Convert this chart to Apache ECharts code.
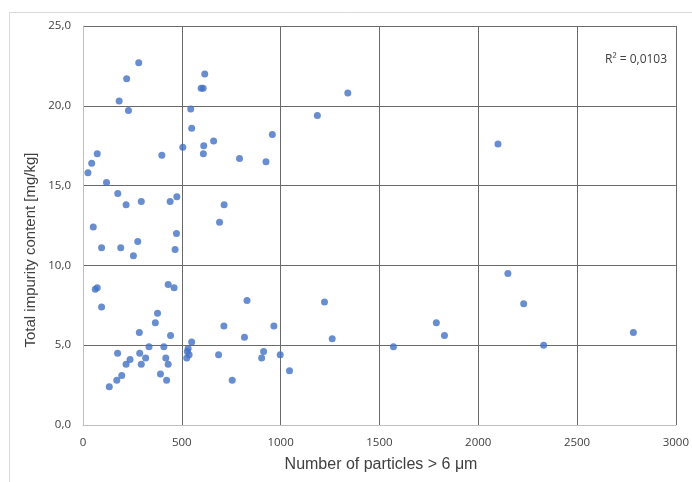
<!DOCTYPE html>
<html>
<head>
<meta charset="utf-8">
<script src="https://cdn.jsdelivr.net/npm/echarts@6/dist/echarts.min.js"></script>
<style>
  html, body { margin: 0; padding: 0; background: #fff; }
  #chart { width: 692px; height: 482px; }
</style>
</head>
<body>
<div id="chart"></div>
<script>
// particles > 6 um (x) vs total impurity content mg/kg (y)
const particles = [
  282, 221, 183, 230, 616, 598, 608, 545, 550, 1340,
  1186, 958, 661, 611, 505, 609, 399, 792, 926, 72,
  44, 25, 119, 176, 218, 295, 441, 475, 714, 691,
  52, 473, 277, 94, 191, 255, 466, 62, 72, 94,
  431, 461, 377, 366, 285, 443, 334, 409, 550, 532,
  528, 537, 525, 175, 287, 238, 218, 317, 295, 419,
  431, 392, 196, 171, 133, 423, 713, 817, 830, 966,
  686, 755, 914, 904, 998, 1045, 1222, 1261, 2100, 1571,
  1788, 1829, 2150, 2230, 2331, 2785
];
const impurity = [
  22.7, 21.7, 20.3, 19.7, 22.0, 21.1, 21.1, 19.8, 18.6, 20.8,
  19.4, 18.2, 17.8, 17.5, 17.4, 17.0, 16.9, 16.7, 16.5, 17.0,
  16.4, 15.8, 15.2, 14.5, 13.8, 14.0, 14.0, 14.3, 13.8, 12.7,
  12.4, 12.0, 11.5, 11.1, 11.1, 10.6, 11.0, 8.5, 8.6, 7.4,
  8.8, 8.6, 7.0, 6.4, 5.8, 5.6, 4.9, 4.9, 5.2, 4.8,
  4.6, 4.4, 4.2, 4.5, 4.5, 4.1, 3.8, 4.2, 3.8, 4.2,
  3.8, 3.2, 3.1, 2.8, 2.4, 2.8, 6.2, 5.5, 7.8, 6.2,
  4.4, 2.8, 4.6, 4.2, 4.4, 3.4, 7.7, 5.4, 17.6, 4.9,
  6.4, 5.6, 9.5, 7.6, 5.0, 5.8
];
const rSquaredText = 'R² = 0,0103';
const xTitle = 'Number of particles > 6 μm';
const yTitle = 'Total impurity content [mg/kg]';

const points = particles.map((x, i) => [x, impurity[i]]);

const labelFont = {
  color: '#404040',
  fontFamily: 'Open Sans',
  fontSize: 11.5
};

const chart = echarts.init(document.getElementById('chart'));

chart.setOption({
  backgroundColor: '#fff',
  animation: false,
  grid: {
    left: 83,
    right: 12,
    top: 26,
    bottom: 57,
    containLabel: false
  },
  xAxis: {
    type: 'value',
    min: 0,
    max: 3000,
    interval: 500,
    axisLine: { show: true, lineStyle: { color: '#bfbfbf', width: 1 } },
    axisTick: { show: false },
    axisLabel: Object.assign({
      margin: 12,
      formatter: v => String(v)
    }, labelFont),
    splitLine: {
      show: true,
      showMinLine: false,
      lineStyle: { color: '#6a6a6a', width: 1 }
    }
  },
  yAxis: {
    type: 'value',
    min: 0,
    max: 25,
    interval: 5,
    axisLine: { show: true, lineStyle: { color: '#bfbfbf', width: 1 } },
    axisTick: { show: false },
    axisLabel: Object.assign({
      margin: 12,
      formatter: v => v.toFixed(1).replace('.', ',')
    }, labelFont),
    splitLine: {
      show: true,
      showMinLine: false,
      lineStyle: { color: '#6a6a6a', width: 1 }
    }
  },
  graphic: [
    {
      // chart area frame (only top and left edges visible)
      type: 'rect',
      shape: { x: 9.5, y: 12.5, width: 700, height: 500 },
      style: { fill: 'none', stroke: '#d9d9d9', lineWidth: 1 },
      silent: true,
      z: -1
    },
    {
      type: 'text',
      left: 605,
      top: 54,
      style: {
        text: rSquaredText,
        fill: '#404040',
        font: '12px "Open Sans"'
      }
    },
    {
      type: 'text',
      x: 381,
      y: 465,
      style: {
        text: xTitle,
        fill: '#404040',
        font: '16px "Liberation Sans"',
        align: 'center',
        verticalAlign: 'middle'
      }
    },
    {
      type: 'text',
      x: 31,
      y: 250,
      rotation: Math.PI / 2,
      style: {
        text: yTitle,
        fill: '#404040',
        font: '15px "Liberation Sans"',
        align: 'center',
        verticalAlign: 'middle'
      }
    }
  ],
  series: [{
    type: 'scatter',
    data: points,
    symbol: 'circle',
    symbolSize: 7,
    itemStyle: { color: '#4472C4' }
  }]
});
</script>
</body>
</html>
